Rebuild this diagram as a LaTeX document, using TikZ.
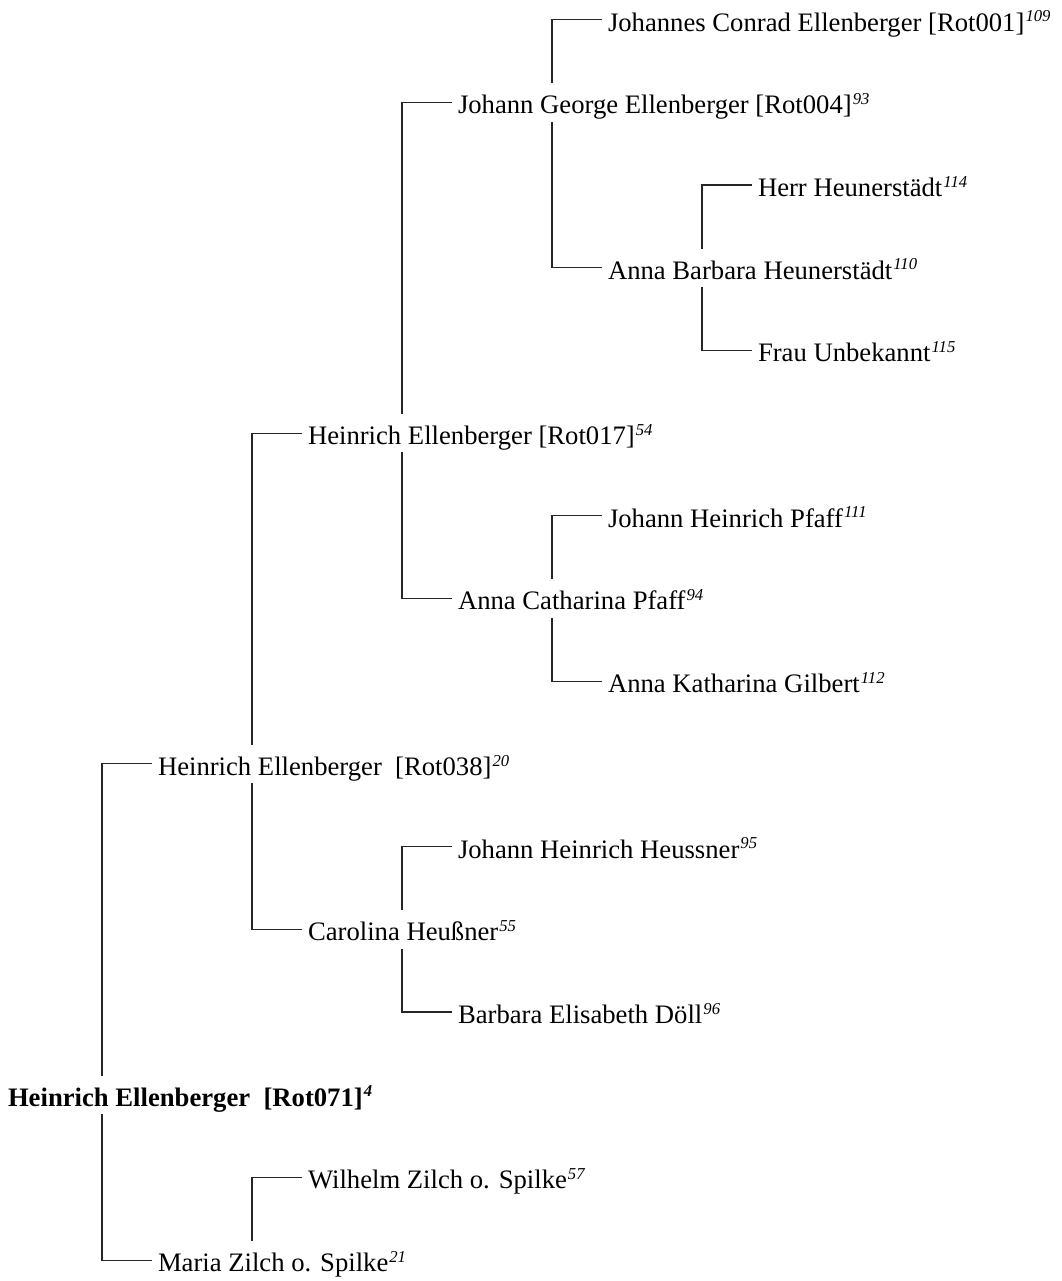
\documentclass[tikz,border=0pt]{standalone}
\usepackage{fontspec}
\setmainfont{Liberation Serif}
\newcommand\sups[1]{\kern0.8pt\raisebox{7pt}{\fontsize{12.5pt}{13pt}\selectfont\itshape #1}}
\tikzset{
  person/.style={anchor=west, inner sep=0pt, outer sep=0pt,
    text height=23pt, text depth=5.8pt,
    font=\fontsize{20pt}{24pt}\selectfont},
  rootperson/.style={person, font=\fontsize{20pt}{24pt}\selectfont\bfseries},
  link/.style={line width=0.85pt, black!85}
}
\begin{document}
\begin{tikzpicture}[x=0.75pt,y=-0.75pt]
\useasboundingbox (0,0) rectangle (1061,1281);
% generation x: 8+150g ; row y: 19.6+82.7i
\node[person] (jce) at (608,19.6)   {Johannes Conrad Ellenberger [Rot001]\sups{109}};
\node[person] (jge) at (458,102.3)  {Johann George Ellenberger [Rot004]\sups{93}};
\node[person] (hh)  at (758,185.0)  {Herr Heunerstädt\sups{114}};
\node[person] (abh) at (608,267.7)  {Anna Barbara Heunerstädt\sups{110}};
\node[person] (fu)  at (758,350.4)  {Frau Unbekannt\sups{115}};
\node[person] (h17) at (308,433.1)  {Heinrich Ellenberger [Rot017]\sups{54}};
\node[person] (jhp) at (608,515.8)  {Johann Heinrich Pfaff\sups{111}};
\node[person] (acp) at (458,598.5)  {Anna Catharina Pfaff\sups{94}};
\node[person] (akg) at (608,681.2)  {Anna Katharina Gilbert\sups{112}};
\node[person] (h38) at (158,763.9)  {Heinrich Ellenberger\ \ [Rot038]\sups{20}};
\node[person] (jhh) at (458,846.6)  {Johann Heinrich Heussner\sups{95}};
\node[person] (ch)  at (308,929.3)  {Carolina Heußner\sups{55}};
\node[person] (bed) at (458,1012.0) {Barbara Elisabeth Döll\sups{96}};
\node[rootperson] (root) at (8,1094.7) {Heinrich Ellenberger\ \ [Rot071]\sups{4}};
\node[person] (wz)  at (308,1177.4) {Wilhelm Zilch o. Spilke\sups{57}};
\node[person] (mz)  at (158,1260.1) {Maria Zilch o. Spilke\sups{21}};

% connectors: father above, mother below
\draw[link] ([xshift=-4.5pt]h38.west) -| ([xshift=70.5pt]root.north west);
\draw[link] ([xshift=70.5pt]root.south west) |- ([xshift=-4.5pt]mz.west);

\draw[link] ([xshift=-4.5pt]h17.west) -| ([xshift=70.5pt]h38.north west);
\draw[link] ([xshift=70.5pt]h38.south west) |- ([xshift=-4.5pt]ch.west);

\draw[link] ([xshift=-4.5pt]jge.west) -| ([xshift=70.5pt]h17.north west);
\draw[link] ([xshift=70.5pt]h17.south west) |- ([xshift=-4.5pt]acp.west);

\draw[link] ([xshift=-4.5pt]jce.west) -| ([xshift=70.5pt]jge.north west);
\draw[link] ([xshift=70.5pt]jge.south west) |- ([xshift=-4.5pt]abh.west);

\draw[link] ([xshift=-4.5pt]hh.west) -| ([xshift=70.5pt]abh.north west);
\draw[link] ([xshift=70.5pt]abh.south west) |- ([xshift=-4.5pt]fu.west);

\draw[link] ([xshift=-4.5pt]jhp.west) -| ([xshift=70.5pt]acp.north west);
\draw[link] ([xshift=70.5pt]acp.south west) |- ([xshift=-4.5pt]akg.west);

\draw[link] ([xshift=-4.5pt]jhh.west) -| ([xshift=70.5pt]ch.north west);
\draw[link] ([xshift=70.5pt]ch.south west) |- ([xshift=-4.5pt]bed.west);

\draw[link] ([xshift=-4.5pt]wz.west) -| ([xshift=70.5pt]mz.north west);
\end{tikzpicture}
\end{document}
